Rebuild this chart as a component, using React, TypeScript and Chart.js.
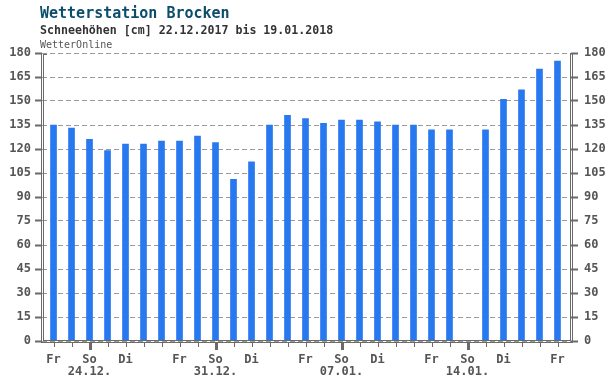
import React, { useEffect, useRef } from 'react';
import { Chart, registerables } from 'chart.js';

Chart.register(...registerables);

// ---- data ----
const dates = [
  '22.12.', '23.12.', '24.12.', '25.12.', '26.12.', '27.12.', '28.12.',
  '29.12.', '30.12.', '31.12.', '01.01.', '02.01.', '03.01.', '04.01.',
  '05.01.', '06.01.', '07.01.', '08.01.', '09.01.', '10.01.', '11.01.',
  '12.01.', '13.01.', '14.01.', '15.01.', '16.01.', '17.01.', '18.01.', '19.01.',
];
const snowDepth: (number | null)[] = [
  135, 133, 126, 119, 123, 123, 125,
  125, 128, 124, 101, 112, 135, 141,
  139, 136, 138, 138, 137, 135, 135,
  132, 132, null, 132, 151, 157, 170, 175,
];
const xTopLabels = [
  'Fr', '', 'So', '', 'Di', '', '',
  'Fr', '', 'So', '', 'Di', '', '',
  'Fr', '', 'So', '', 'Di', '', '',
  'Fr', '', 'So', '', 'Di', '', '', 'Fr',
];
const xBottomLabels = [
  '', '', '24.12.', '', '', '', '',
  '', '', '31.12.', '', '', '', '',
  '', '', '07.01.', '', '', '', '',
  '', '', '14.01.', '', '', '', '', '',
];
const yMin = 0;
const yMax = 180;
const yStep = 15;

const titleText = 'Wetterstation Brocken';
const subtitleText = 'Schneehöhen [cm] 22.12.2017 bis 19.01.2018';
const sourceText = 'WetterOnline';

const FONT = "'DejaVu Sans Mono', 'Liberation Mono', monospace";
const AXIS = '#6a6a6a';
const TEXT = '#555555';
const BAR = '#2878F0';

export default function App() {
  const ref = useRef<HTMLCanvasElement>(null);

  useEffect(() => {
    if (!ref.current) return;

    const decor = {
      id: 'decor',
      afterDraw(chart: any) {
        const { ctx, chartArea: a } = chart;
        const xs = chart.scales.x;
        ctx.save();
        // header texts
        ctx.textAlign = 'left';
        ctx.textBaseline = 'alphabetic';
        ctx.fillStyle = '#0b4d6b';
        ctx.font = `bold 15px ${FONT}`;
        ctx.fillText(titleText, 40, 17.5);
        ctx.fillStyle = '#333333';
        ctx.font = `bold 11.6px ${FONT}`;
        ctx.fillText(subtitleText, 40, 34);
        ctx.fillStyle = '#555555';
        ctx.font = `10px ${FONT}`;
        ctx.fillText(sourceText, 40, 47.5);

        // frame (double lines)
        ctx.strokeStyle = AXIS;
        ctx.lineWidth = 1;
        const L = a.left, R = a.right, T = a.top, B = a.bottom;
        ctx.beginPath();
        // outer
        ctx.moveTo(L - 0.5, T);
        ctx.lineTo(L - 0.5, B + 2);
        ctx.moveTo(L - 1, B + 1.5);
        ctx.lineTo(R + 2, B + 1.5);
        ctx.moveTo(R + 1.5, T);
        ctx.lineTo(R + 1.5, B + 2);
        // inner
        ctx.moveTo(L + 1.5, T + 1);
        ctx.lineTo(L + 1.5, B - 0.5);
        ctx.moveTo(L + 1, B - 0.5);
        ctx.lineTo(R, B - 0.5);
        ctx.moveTo(R - 0.5, T);
        ctx.lineTo(R - 0.5, B);
        ctx.moveTo(L + 1, T + 1.5);
        ctx.lineTo(L + 5, T + 1.5);
        ctx.stroke();

        // x tick marks
        ctx.fillStyle = AXIS;
        dates.forEach((_, i) => {
          const px = Math.round(xs.getPixelForValue(i));
          if (xBottomLabels[i]) {
            ctx.fillRect(px - 1, B + 2, 3, 7);
          } else {
            ctx.fillRect(px, B + 2, 1, 4);
          }
        });
        ctx.restore();
      },
    };

    const yCommon = {
      min: yMin,
      max: yMax,
      ticks: {
        stepSize: yStep,
        color: TEXT,
        font: { family: FONT, size: 12, weight: 'bold' as const },
      },
      border: { display: false, dash: [5, 3] },
    };

    const chart = new Chart(ref.current, {
      type: 'bar',
      data: {
        datasets: [
          {
            data: snowDepth.map((v, i) => ({ x: i, y: v })) as any,
            backgroundColor: BAR,
            borderWidth: 0,
            barThickness: 6,
          },
        ],
      },
      options: {
        responsive: false,
        animation: false,
        events: [],
        layout: { padding: { top: 53, left: 0, right: 0, bottom: 0 } },
        plugins: {
          legend: { display: false },
          tooltip: { enabled: false },
          title: { display: false },
        },
        scales: {
          x: {
            type: 'linear',
            offset: false,
            min: -0.64,
            max: 28.75,
            grid: { display: false, offset: false },
            border: { display: false },
            afterBuildTicks: (scale: any) => {
              scale.ticks = dates.map((_, i) => ({ value: i }));
            },
            afterFit: (scale: any) => {
              scale.height = 36;
            },
            ticks: {
              autoSkip: false,
              maxRotation: 0,
              minRotation: 0,
              padding: 5,
              color: TEXT,
              font: { family: FONT, size: 12, weight: 'bold', lineHeight: 1.0 },
              callback: (_v: any, index: number) => {
                const t = xTopLabels[index];
                const b = xBottomLabels[index];
                if (!t && !b) return '';
                return b ? [t, b] : t;
              },
            },
          } as any,
          y: {
            ...yCommon,
            position: 'left',
            afterFit: (scale: any) => {
              scale.width = 42;
            },
            ticks: { ...yCommon.ticks, padding: 4 },
            grid: {
              color: '#9a9a9a',
              lineWidth: 1,
              drawTicks: true,
              tickLength: 7,
              tickWidth: 2,
              tickColor: AXIS,
              tickBorderDash: [],
            },
          } as any,
          y2: {
            ...yCommon,
            position: 'right',
            afterFit: (scale: any) => {
              scale.width = 41;
            },
            ticks: { ...yCommon.ticks, padding: 6 },
            grid: {
              drawOnChartArea: false,
              drawTicks: true,
              tickLength: 7,
              tickWidth: 2,
              tickColor: AXIS,
              tickBorderDash: [],
            },
          } as any,
        },
      },
      plugins: [decor],
    });

    return () => chart.destroy();
  }, []);

  return (
    <div style={{ position: 'fixed', left: 0, top: 0, width: 612, height: 377, background: '#fff' }}>
      <canvas ref={ref} width={612} height={377} style={{ display: 'block' }} />
    </div>
  );
}
